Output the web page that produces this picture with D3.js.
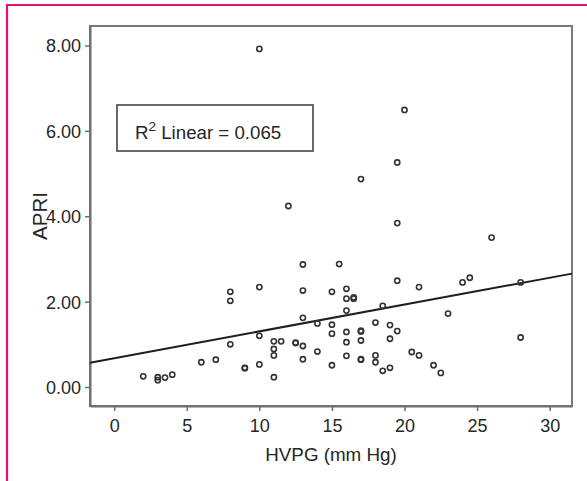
<!DOCTYPE html>
<html>
<head>
<meta charset="utf-8">
<script src="https://cdn.jsdelivr.net/npm/d3@7"></script>
<style>
  html, body { margin: 0; padding: 0; background: #fff; }
  svg { display: block; }
  text { font-family: Arial, "Liberation Sans", Helvetica, sans-serif; }
</style>
</head>
<body>
<svg id="chart" width="587" height="481"></svg>
<script>
// ---- data ----
const hvpg = [10, 20, 19.5, 17, 12, 19.5, 26, 13, 15.5, 19.5, 24.5, 24, 28, 21, 10, 8, 8, 13, 15, 16,
  16, 16.5, 16.5, 18.5, 16, 23, 13, 14, 15, 18, 19, 15, 16, 17, 17, 19.5, 10, 28, 8, 11,
  11.5, 12.5, 12.5, 13, 16, 17, 19, 11, 11, 14, 20.5, 21, 16, 18, 17, 17, 13, 7, 6, 18,
  10, 15, 22, 9, 9, 19, 18.5, 22.5, 2, 3, 3, 3.5, 4, 11];
const apri = [7.92, 6.49, 5.26, 4.87, 4.24, 3.84, 3.50, 2.87, 2.88, 2.49, 2.56, 2.45, 2.45, 2.34, 2.34, 2.23, 2.02, 2.26, 2.23, 2.30,
  2.07, 2.10, 2.07, 1.90, 1.79, 1.72, 1.62, 1.49, 1.46, 1.51, 1.45, 1.25, 1.29, 1.30, 1.32, 1.31, 1.20, 1.16, 1.00, 1.07,
  1.07, 1.04, 1.03, 0.96, 1.05, 1.09, 1.13, 0.89, 0.74, 0.83, 0.82, 0.74, 0.73, 0.74, 0.64, 0.65, 0.65, 0.64, 0.58, 0.58,
  0.53, 0.51, 0.51, 0.44, 0.45, 0.45, 0.38, 0.33, 0.25, 0.23, 0.16, 0.22, 0.29, 0.23];
const fitLine = [0.675, 0.0628];          // intercept, slope
const xTicks = [0, 5, 10, 15, 20, 25, 30];
const yTicks = [0, 2, 4, 6, 8];
const xDomain = [-1.667, 31.54];
const yDomain = [-0.445, 8.457];
const xTitle = "HVPG (mm Hg)";
const yTitle = "APRI";
const r2Label = ["R", "2", " Linear = 0.065"];

// ---- layout ----
const L = 90, R = 572, T = 26, B = 406;
const svg = d3.select("#chart");

// pink frame
svg.append("path")
  .attr("d", "M7,481 L7,5 L587,5")
  .attr("fill", "none").attr("stroke", "#e2126f").attr("stroke-width", 2.2);

const x = d3.scaleLinear().domain(xDomain).range([L, R]);
const y = d3.scaleLinear().domain(yDomain).range([B, T]);

// plot box
svg.append("rect")
  .attr("x", L).attr("y", T).attr("width", R - L).attr("height", B - T)
  .attr("fill", "#fff").attr("stroke", "#7a7a7a").attr("stroke-width", 2);

// axes
const gx = svg.append("g").attr("transform", `translate(0,${B})`)
  .call(d3.axisBottom(x).tickValues(xTicks).tickSize(5).tickSizeOuter(0).tickPadding(8).tickFormat(d3.format("d")));
const gy = svg.append("g").attr("transform", `translate(${L},0)`)
  .call(d3.axisLeft(y).tickValues(yTicks).tickSize(5).tickSizeOuter(0).tickPadding(4).tickFormat(d3.format(".2f")));
[gx, gy].forEach(g => {
  g.select(".domain").attr("stroke", "#6e6e6e").attr("stroke-width", 2);
  g.selectAll(".tick line").attr("stroke", "#6e6e6e").attr("stroke-width", 1.5);
  g.selectAll(".tick text").attr("fill", "#262626").attr("font-size", 18)
    .attr("font-family", "Arial, 'Liberation Sans', sans-serif");
});
gy.selectAll(".tick text").attr("dy", "0.36em");

// axis titles
svg.append("text")
  .attr("x", (L + R) / 2).attr("y", 461)
  .attr("text-anchor", "middle").attr("font-size", 18.8).attr("fill", "#262626")
  .text(xTitle);
svg.append("text")
  .attr("transform", `translate(47,${(T + B) / 2}) rotate(-90)`)
  .attr("text-anchor", "middle").attr("font-size", 20.5).attr("fill", "#262626")
  .text(yTitle);

// fit line
svg.append("line")
  .attr("x1", x(xDomain[0])).attr("y1", y(fitLine[0] + fitLine[1] * xDomain[0]))
  .attr("x2", x(xDomain[1])).attr("y2", y(fitLine[0] + fitLine[1] * xDomain[1]))
  .attr("stroke", "#1e1e1e").attr("stroke-width", 2);

// points
svg.append("g").selectAll("circle")
  .data(hvpg.map((v, i) => [v, apri[i]]))
  .join("circle")
  .attr("cx", d => x(d[0])).attr("cy", d => y(d[1]))
  .attr("r", 2.6)
  .attr("fill", "none").attr("stroke", "#333").attr("stroke-width", 1.6);

// R^2 box
svg.append("rect")
  .attr("x", 117).attr("y", 105).attr("width", 196).attr("height", 46)
  .attr("fill", "#fff").attr("stroke", "#5a5a5a").attr("stroke-width", 1.8);
const t = svg.append("text").attr("x", 135).attr("y", 139)
  .attr("font-size", 18.7).attr("fill", "#262626");
t.append("tspan").text(r2Label[0]);
t.append("tspan").attr("font-size", 13.5).attr("dy", -8).text(r2Label[1]);
t.append("tspan").attr("dy", 8).text(r2Label[2]);
</script>
</body>
</html>
